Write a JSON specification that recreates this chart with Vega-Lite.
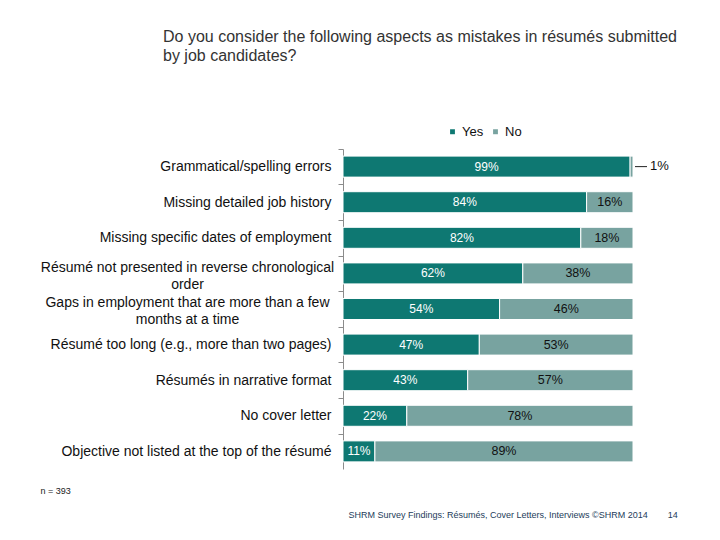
{
  "$schema": "https://vega.github.io/schema/vega-lite/v6.json",
  "width": 290,
  "height": 320,
  "autosize": {"type": "none"},
  "padding": {"left": 343, "top": 149, "right": 87, "bottom": 71},
  "background": "white",
  "config": {"view": {"stroke": null}, "font": "Liberation Sans"},
  "title": {
    "text": ["Do you consider the following aspects as mistakes in résumés submitted", "by job candidates?"],
    "anchor": "start",
    "frame": "group",
    "dx": -180,
    "fontSize": 16,
    "fontWeight": "normal",
    "color": "#333333",
    "font": "Liberation Sans",
    "lineHeight": 19,
    "offset": 61
  },
  "data": {
    "values": [
      {"q": "Grammatical/spelling errors", "resp": "Yes", "pct": 99},
      {"q": "Grammatical/spelling errors", "resp": "No", "pct": 1},
      {"q": "Missing detailed job history", "resp": "Yes", "pct": 84},
      {"q": "Missing detailed job history", "resp": "No", "pct": 16},
      {"q": "Missing specific dates of employment", "resp": "Yes", "pct": 82},
      {"q": "Missing specific dates of employment", "resp": "No", "pct": 18},
      {"q": "Résumé not presented in reverse chronological|order", "resp": "Yes", "pct": 62},
      {"q": "Résumé not presented in reverse chronological|order", "resp": "No", "pct": 38},
      {"q": "Gaps in employment that are more than a few|months at a time", "resp": "Yes", "pct": 54},
      {"q": "Gaps in employment that are more than a few|months at a time", "resp": "No", "pct": 46},
      {"q": "Résumé too long (e.g., more than two pages)", "resp": "Yes", "pct": 47},
      {"q": "Résumé too long (e.g., more than two pages)", "resp": "No", "pct": 53},
      {"q": "Résumés in narrative format", "resp": "Yes", "pct": 43},
      {"q": "Résumés in narrative format", "resp": "No", "pct": 57},
      {"q": "No cover letter", "resp": "Yes", "pct": 22},
      {"q": "No cover letter", "resp": "No", "pct": 78},
      {"q": "Objective not listed at the top of the résumé", "resp": "Yes", "pct": 11},
      {"q": "Objective not listed at the top of the résumé", "resp": "No", "pct": 89}
    ]
  },
  "transform": [
    {"stack": "pct", "groupby": ["q"], "sort": [{"field": "resp", "order": "descending"}], "as": ["x0", "x1"]},
    {"calculate": "(datum.x0 + datum.x1) / 2", "as": "mid"},
    {"calculate": "datum.pct + '%'", "as": "label"}
  ],
  "encoding": {
    "y": {
      "field": "q",
      "type": "nominal",
      "sort": null,
      "scale": {"paddingInner": 0.41, "paddingOuter": 0.2},
      "axis": {
        "title": "n = 393",
        "titleAngle": 0,
        "titleX": -303,
        "titleY": 344,
        "titleAlign": "left",
        "titleBaseline": "alphabetic",
        "titleFontSize": 9,
        "titleFontWeight": "normal",
        "titleColor": "#222222",
        "labelExpr": "split(datum.label, '|')",
        "labelFontSize": 14,
        "labelColor": "#111111",
        "labelLimit": 400,
        "labelLineHeight": 17,
        "labelAlign": {"condition": {"test": "indexof(datum.value, '|') >= 0", "value": "center"}, "value": "right"},
        "labelPadding": {"condition": {"test": "indexof(datum.value, '|') >= 0", "value": 151}, "value": 7},
        "labelOffset": {"condition": {"test": "indexof(datum.value, '|') >= 0", "value": 11.5}, "value": 17.8},
        "tickOffset": -17.8,
        "tickSize": 5,
        "tickColor": "#8c8c8c",
        "domainColor": "#8c8c8c"
      }
    }
  },
  "layer": [
    {
      "mark": {"type": "bar", "stroke": "white", "strokeWidth": 1},
      "encoding": {
        "x": {
          "field": "x0",
          "type": "quantitative",
          "scale": {"domain": [0, 100], "nice": false},
          "axis": {
            "title": "SHRM Survey Findings: Résumés, Cover Letters, Interviews ©SHRM 2014\u00a0\u00a0\u00a0\u00a0\u00a0\u00a0\u00a0\u00a014",
            "titleX": 5,
            "titleY": 41,
            "titleAlign": "left",
            "titleAnchor": "start",
            "titleFontSize": 9,
            "titleFontWeight": "normal",
            "titleColor": "#1d3c5a",
            "labels": false,
            "ticks": false,
            "domain": false,
            "grid": false
          }
        },
        "x2": {"field": "x1"},
        "color": {
          "field": "resp",
          "type": "nominal",
          "scale": {"domain": ["Yes", "No"], "range": ["#0e7872", "#78a3a0"]},
          "legend": {
            "title": null,
            "orient": "none",
            "direction": "horizontal",
            "legendX": 103,
            "legendY": -24,
            "symbolType": "square",
            "symbolSize": 40,
            "labelFontSize": 13,
            "labelColor": "#111111",
            "labelOffset": 3,
            "columnPadding": 5
          }
        }
      }
    },
    {
      "transform": [{"filter": "datum.resp == 'Yes'"}],
      "mark": {"type": "text", "color": "white", "fontSize": 12},
      "encoding": {
        "x": {"field": "mid", "type": "quantitative"},
        "text": {"field": "label"}
      }
    },
    {
      "transform": [{"filter": "datum.resp == 'No' && datum.pct >= 5"}],
      "mark": {"type": "text", "color": "#111111", "fontSize": 12.5},
      "encoding": {
        "x": {"field": "mid", "type": "quantitative"},
        "text": {"field": "label"}
      }
    },
    {
      "transform": [{"filter": "datum.resp == 'No' && datum.pct < 5"}],
      "mark": {"type": "text", "color": "#111111", "fontSize": 13, "align": "left", "dx": 17, "dy": -1},
      "encoding": {
        "x": {"field": "x1", "type": "quantitative"},
        "text": {"field": "label"}
      }
    },
    {
      "transform": [{"filter": "datum.resp == 'No' && datum.pct < 5"}],
      "mark": {"type": "rule", "color": "#222222", "strokeWidth": 1, "xOffset": 2, "x2Offset": 14},
      "encoding": {
        "x": {"field": "x1", "type": "quantitative"},
        "x2": {"field": "x1"}
      }
    }
  ]
}
